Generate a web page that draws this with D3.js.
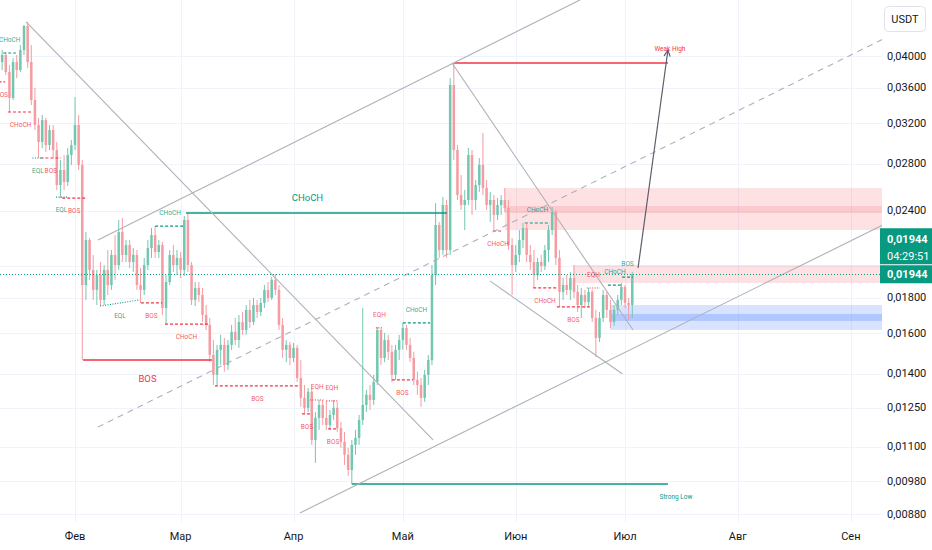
<!DOCTYPE html>
<html><head><meta charset="utf-8">
<script src="https://cdn.jsdelivr.net/npm/d3@7/dist/d3.min.js"></script>
<style>
html,body{margin:0;padding:0;background:#fff;}
svg{display:block;font-family:Roboto,"Liberation Sans",Arial,sans-serif;}
</style></head><body>
<svg id="chart" width="932" height="550"></svg>
<script>
// ---------- DATA ----------
const firstDay = "2024-01-12";
const openP = [0.03921,0.04013,0.03794,0.03482,0.03921,0.03819,0.04080,0.04417,0.03921,0.03459,
0.03184,0.03010,0.03237,0.02980,0.03132,0.02932,0.02611,0.02744,0.02637,0.02883,
0.02980,0.03184,0.02790,0.01876,0.02177,0.01972,0.01846,0.01939,0.01786,0.01972,
0.01876,0.02072,0.02004,0.02235,0.02072,0.02141,0.02024,0.02072,0.01876,0.01846,
0.02004,0.02120,0.02213,0.02092,0.02141,0.01739,0.01895,0.02072,0.02004,0.02052,
0.01972,0.02326,0.02004,0.01786,0.01858,0.01815,0.01699,0.01644,0.01489,0.01394,
0.01514,0.01539,0.01440,0.01539,0.01607,0.01564,0.01660,0.01617,0.01728,0.01660,
0.01756,0.01716,0.01768,0.01846,0.01798,0.01908,0.01846,0.01644,0.01514,0.01539,
0.01474,0.01524,0.01380,0.01292,0.01250,0.01318,0.01124,0.01209,0.01262,0.01209,
0.01181,0.01221,0.01250,0.01169,0.01117,0.01070,0.01018,0.01106,0.01132,0.01201,
0.01262,0.01305,0.01283,0.01362,0.01617,0.01474,0.01564,0.01504,0.01394,0.01514,
0.01564,0.01628,0.01539,0.01474,0.01371,0.01348,0.01292,0.01394,0.01464,0.01939,
0.02288,0.02106,0.02444,0.02106,0.03634,0.02932,0.02526,0.02444,0.02485,0.02883,
0.02485,0.02611,0.02790,0.02586,0.02444,0.02485,0.02365,0.02444,0.02485,0.02420,
0.02141,0.02004,0.02072,0.02177,0.02265,0.02072,0.02024,0.01939,0.02024,0.01998,
0.02106,0.02250,0.02388,0.02052,0.01834,0.01876,0.01846,0.01920,0.01834,0.01756,
0.01815,0.01774,0.01834,0.01682,0.01575,0.01682,0.01815,0.01728,0.01660,0.01728,
0.01786,0.01864,0.01768,0.01756];
const highP = [0.04080,0.04053,0.03882,0.03973,0.04013,0.04147,0.04432,0.04476,0.04147,0.03599,
0.03259,0.03291,0.03259,0.03184,0.03184,0.03010,0.02836,0.02883,0.02951,0.03030,
0.03493,0.03291,0.02836,0.02235,0.02191,0.02072,0.01972,0.02024,0.02004,0.02106,
0.02106,0.02213,0.02326,0.02341,0.02177,0.02177,0.02120,0.02106,0.01985,0.02052,
0.02177,0.02265,0.02280,0.02177,0.02163,0.01939,0.02106,0.02141,0.02106,0.02092,
0.02357,0.02380,0.02024,0.01895,0.01895,0.01858,0.01756,0.01682,0.01564,0.01539,
0.01591,0.01575,0.01564,0.01644,0.01682,0.01699,0.01716,0.01756,0.01786,0.01798,
0.01786,0.01798,0.01876,0.01895,0.01926,0.01946,0.01876,0.01682,0.01564,0.01554,
0.01549,0.01539,0.01464,0.01348,0.01335,0.01335,0.01233,0.01283,0.01283,0.01279,
0.01241,0.01283,0.01275,0.01193,0.01154,0.01095,0.01124,0.01162,0.01221,0.01739,
0.01326,0.01348,0.01394,0.01633,0.01622,0.01601,0.01591,0.01539,0.01539,0.01591,
0.01655,0.01644,0.01575,0.01504,0.01408,0.01380,0.01417,0.01489,0.02004,0.02460,
0.02311,0.02510,0.02485,0.03719,0.03908,0.02980,0.02699,0.02569,0.02951,0.02932,
0.02655,0.02855,0.03101,0.02655,0.02552,0.02526,0.02501,0.02526,0.02586,0.02485,
0.02191,0.02141,0.02250,0.02303,0.02296,0.02141,0.02106,0.02052,0.02072,0.02141,
0.02288,0.02428,0.02404,0.02106,0.01920,0.01939,0.01959,0.02004,0.01876,0.01858,
0.01846,0.01858,0.01846,0.01728,0.01716,0.01846,0.01834,0.01786,0.01756,0.01815,
0.01889,0.01876,0.01798,0.01959];
const lowP = [0.03819,0.03756,0.03324,0.03459,0.03719,0.03794,0.04013,0.03844,0.03402,0.03132,
0.02855,0.02951,0.02912,0.02932,0.02855,0.02569,0.02501,0.02569,0.02603,0.02790,
0.02932,0.02744,0.01464,0.01786,0.01908,0.01786,0.01756,0.01750,0.01756,0.01815,
0.01846,0.01908,0.01972,0.02024,0.02024,0.01985,0.01959,0.01846,0.01768,0.01815,
0.01972,0.02052,0.02052,0.02052,0.01699,0.01649,0.01876,0.01959,0.01939,0.01920,
0.01933,0.01959,0.01756,0.01750,0.01774,0.01660,0.01617,0.01454,0.01348,0.01344,
0.01440,0.01408,0.01417,0.01514,0.01539,0.01524,0.01591,0.01591,0.01628,0.01644,
0.01682,0.01693,0.01739,0.01774,0.01786,0.01815,0.01617,0.01474,0.01454,0.01440,
0.01454,0.01362,0.01254,0.01225,0.01233,0.01106,0.01042,0.01162,0.01181,0.01162,
0.01162,0.01201,0.01154,0.01095,0.01035,0.00998,0.00972,0.01070,0.01106,0.01181,
0.01233,0.01241,0.01262,0.01348,0.01440,0.01454,0.01464,0.01362,0.01371,0.01464,
0.01514,0.01514,0.01454,0.01348,0.01305,0.01254,0.01275,0.01348,0.01440,0.01876,
0.02052,0.02072,0.02052,0.02072,0.02836,0.02485,0.02404,0.02250,0.02444,0.02365,
0.02404,0.02552,0.02526,0.02404,0.02311,0.02243,0.02326,0.02365,0.02388,0.02106,
0.01815,0.01959,0.02024,0.02120,0.02024,0.01972,0.01858,0.01908,0.01959,0.01972,
0.02024,0.02213,0.02004,0.01745,0.01786,0.01815,0.01786,0.01798,0.01716,0.01682,
0.01739,0.01750,0.01660,0.01479,0.01554,0.01660,0.01682,0.01628,0.01639,0.01699,
0.01756,0.01739,0.01671,0.01682];
const closeP = [0.04013,0.03794,0.03482,0.03921,0.03819,0.04080,0.04417,0.03921,0.03459,0.03184,
0.03010,0.03237,0.02980,0.03132,0.02932,0.02611,0.02744,0.02637,0.02883,0.02980,
0.03184,0.02790,0.01876,0.02177,0.01972,0.01846,0.01939,0.01786,0.01972,0.01876,
0.02072,0.02004,0.02235,0.02072,0.02141,0.02024,0.02072,0.01876,0.01846,0.02004,
0.02120,0.02213,0.02092,0.02141,0.01739,0.01895,0.02072,0.02004,0.02052,0.01972,
0.02326,0.02004,0.01786,0.01858,0.01815,0.01699,0.01644,0.01489,0.01394,0.01514,
0.01539,0.01440,0.01539,0.01607,0.01564,0.01660,0.01617,0.01728,0.01660,0.01756,
0.01716,0.01768,0.01846,0.01798,0.01908,0.01846,0.01644,0.01514,0.01539,0.01474,
0.01524,0.01380,0.01292,0.01250,0.01318,0.01124,0.01209,0.01262,0.01209,0.01181,
0.01221,0.01250,0.01169,0.01117,0.01070,0.01018,0.01106,0.01132,0.01201,0.01262,
0.01305,0.01283,0.01362,0.01617,0.01474,0.01564,0.01504,0.01394,0.01514,0.01564,
0.01628,0.01539,0.01474,0.01371,0.01348,0.01292,0.01394,0.01464,0.01939,0.02288,
0.02106,0.02444,0.02106,0.03634,0.02932,0.02526,0.02444,0.02485,0.02883,0.02485,
0.02611,0.02790,0.02586,0.02444,0.02485,0.02365,0.02444,0.02485,0.02420,0.02141,
0.02004,0.02072,0.02177,0.02265,0.02072,0.02024,0.01939,0.02024,0.01998,0.02106,
0.02250,0.02388,0.02052,0.01834,0.01876,0.01846,0.01920,0.01834,0.01756,0.01815,
0.01774,0.01834,0.01682,0.01575,0.01682,0.01815,0.01728,0.01660,0.01728,0.01786,
0.01864,0.01768,0.01756,0.01944];

const lastPrice = 0.01944;
const lastPriceText = "0,01944";
const countdown = "04:29:51";
const currency = "USDT";

const monthTicks = ["2024-02-01","2024-03-01","2024-04-01","2024-05-01","2024-06-01","2024-07-01","2024-08-01","2024-09-01"];
const monthLabels = ["Фев","Мар","Апр","Май","Июн","Июл","Авг","Сен"];
const priceTicks = [0.0400,0.0360,0.0320,0.0280,0.0240,0.0180,0.0160,0.0140,0.0125,0.0110,0.0098,0.0088];
const hiddenTicks = [0.0200];

// structure breaks: [startCandle, endCandle, price, label, direction(+1 bull / -1 bear)]
const minorBreaks = [
  [0.3, 3.8, 0.04040, "CHoCH", 1],
  [-1, 0.8, 0.03671, "BOS", -1],
  [1.6, 8.5, 0.03324, "CHoCH", -1],
  [10.5, 16.2, 0.02855, "BOS", -1],
  [16.5, 23, 0.02501, "BOS", -1],
  [38.1, 43.9, 0.01768, "BOS", -1],
  [42, 50.2, 0.02280, "CHoCH", 1],
  [44.7, 56.5, 0.01649, "CHoCH", -1],
  [58.4, 81.8, 0.01344, "BOS", -1],
  [82.3, 85.1, 0.01225, "BOS", -1],
  [89.5, 92.2, 0.01166, "BOS", -1],
  [107, 112.8, 0.01371, "BOS", -1],
  [110, 117.5, 0.01655, "CHoCH", 1],
  [134.8, 137.5, 0.02243, "CHoCH", -1],
  [143.5, 150.4, 0.02303, "CHoCH", 1],
  [145.8, 152.3, 0.01858, "CHoCH", -1],
  [152.3, 161.4, 0.01745, "BOS", -1],
  [166.3, 170.2, 0.01876, "CHoCH", 1],
  [170.2, 173.2, 0.01926, "BOS", 1]
];
const majorBreaks = [
  [22.2, 57.6, 0.01464, "BOS", -1],
  [50.5, 122.1, 0.02380, "CHoCH", 1]
];
// equal highs / lows: [startCandle, endCandle, price1, price2, label, direction]
const equalLevels = [
  [8.3, 11.3, 0.02855, 0.02855, "EQL", 1],
  [14.8, 17.8, 0.02509, 0.02509, "EQL", 1],
  [26.9, 37.8, 0.01750, 0.01786, "EQL", 1],
  [84.5, 88.5, 0.01283, 0.01283, "EQH", -1],
  [89, 92, 0.01279, 0.01279, "EQH", -1],
  [102.6, 104.6, 0.01628, 0.01628, "EQH", -1],
  [160.6, 164.1, 0.01858, 0.01858, "EQH", -1]
];
// zones: [startCandle, top, bottom, bandTop, bandBottom, kind]
const zones = [
  [138, 0.02586, 0.02250, 0.02436, 0.02380, "supply"],
  [156.8, 0.02004, 0.01889, null, null, "supply"],
  [166.9, 0.01756, 0.01617, 0.01705, 0.01666, "demand"]
];
// drawn trend lines: [date1, price1, date2, price2, dashed]
const trendLines = [
  ["2024-02-07T07:26Z", 0.02177, "2024-06-18T15:00Z", 0.04814, false],
  ["2024-02-07T07:26Z", 0.01173, "2024-09-10T10:00Z", 0.04245, true],
  ["2024-04-02T18:30Z", 0.008832, "2024-09-10T10:00Z", 0.02296, false],
  ["2024-01-18T14:00Z", 0.04476, "2024-05-09T07:00Z", 0.01124, false],
  ["2024-05-14T12:00Z", 0.03908, "2024-07-03T05:00Z", 0.01617, false],
  ["2024-05-24T22:00Z", 0.01902, "2024-06-30T05:00Z", 0.01399, false]
];
const arrowLine = ["2024-07-04T14:00Z", 0.01985, "2024-07-12T19:00Z", 0.04080];
const weakHigh = [124, 0.03908, "2024-07-12T19:00Z", "Weak High"];
const strongLow = [96, 0.00972, "2024-07-12T19:00Z", "Strong Low"];

// ---------- RENDER ----------
const W = 932, H = 550, plotR = 882, plotB = 522;
const svg = d3.select("#chart");
const day0 = new Date(firstDay + "T00:00:00Z");
const at = i => new Date(day0.getTime() + i * 864e5);
const x = d3.scaleUtc()
  .domain([new Date("2024-02-01T00:00:00Z"), new Date("2024-07-01T00:00:00Z")])
  .range([75, 625]);
const y = d3.scaleLog().domain([0.0088, 0.04]).range([514, 56]);
const UP = "#089981", DN = "#f23645";
const candleUp = "#72c7b0", candleDn = "#f59ca2";
const fmt = p => d3.format(".5f")(p).replace(".", ",");

svg.append("rect").attr("width", W).attr("height", H).attr("fill", "#fff");
svg.append("defs").append("clipPath").attr("id", "plotclip")
  .append("rect").attr("x", 0).attr("y", 0).attr("width", plotR).attr("height", plotB);

// grid
const grid = svg.append("g").attr("stroke", "#f0f3fa").attr("stroke-width", 1);
grid.selectAll("line.h").data(priceTicks.concat(hiddenTicks)).join("line").attr("class", "h")
  .attr("x1", 0).attr("x2", plotR)
  .attr("y1", d => Math.round(y(d)) + 0.5).attr("y2", d => Math.round(y(d)) + 0.5);
grid.selectAll("line.v").data(monthTicks).join("line").attr("class", "v")
  .attr("x1", d => Math.round(x(new Date(d + "T00:00:00Z"))) + 0.5)
  .attr("x2", d => Math.round(x(new Date(d + "T00:00:00Z"))) + 0.5)
  .attr("y1", 0).attr("y2", plotB);

const plot = svg.append("g").attr("clip-path", "url(#plotclip)");

// zones
zones.forEach(([s, top, bot, bt, bb, kind]) => {
  const fill = kind === "supply" ? "rgba(242,54,69,0.15)" : "rgba(41,98,255,0.18)";
  const band = kind === "supply" ? "rgba(242,54,69,0.13)" : "rgba(41,98,255,0.22)";
  const x0 = x(at(s));
  plot.append("rect").attr("x", x0).attr("width", plotR - x0)
    .attr("y", y(top)).attr("height", y(bot) - y(top)).attr("fill", fill);
  if (bt !== null) {
    plot.append("rect").attr("x", x0).attr("width", plotR - x0)
      .attr("y", y(bt)).attr("height", y(bb) - y(bt)).attr("fill", band);
  }
});

// candles
const idx = d3.range(closeP.length);
const cg = plot.append("g");
cg.selectAll("line").data(idx).join("line")
  .attr("x1", i => x(at(i))).attr("x2", i => x(at(i)))
  .attr("y1", i => y(highP[i])).attr("y2", i => y(lowP[i]))
  .attr("stroke", i => closeP[i] >= openP[i] ? candleUp : candleDn).attr("stroke-width", 1);
cg.selectAll("rect").data(idx).join("rect")
  .attr("x", i => x(at(i)) - 1.25).attr("width", 2.5)
  .attr("y", i => y(Math.max(openP[i], closeP[i])))
  .attr("height", i => Math.max(0.8, Math.abs(y(openP[i]) - y(closeP[i]))))
  .attr("fill", i => closeP[i] >= openP[i] ? candleUp : candleDn);

// structure lines + labels
const lab = svg.append("g").attr("clip-path", "url(#plotclip)")
  .attr("text-anchor", "middle").attr("dominant-baseline", "central");
minorBreaks.forEach(([a, b, p, t, dir]) => {
  const c = dir > 0 ? UP : DN, yy = y(p), x1 = x(at(a)), x2 = x(at(b));
  plot.append("line").attr("x1", x1).attr("x2", x2).attr("y1", yy).attr("y2", yy)
    .attr("stroke", c).attr("stroke-width", 1.2).attr("stroke-dasharray", "3,2");
  lab.append("text").attr("x", (x1 + x2) / 2).attr("y", yy + (dir > 0 ? -13 : 13))
    .attr("font-size", 6.5).attr("fill", c).attr("fill-opacity", 0.85).text(t);
});
majorBreaks.forEach(([a, b, p, t, dir]) => {
  const c = dir > 0 ? UP : DN, yy = y(p), x1 = x(at(a)), x2 = x(at(b));
  plot.append("line").attr("x1", x1).attr("x2", x2).attr("y1", yy).attr("y2", yy)
    .attr("stroke", c).attr("stroke-width", 1.5);
  lab.append("text").attr("x", (x1 + x2) / 2 + (dir > 0 ? -9 : 0)).attr("y", yy + (dir > 0 ? -16 : 18))
    .attr("font-size", 9.5).attr("fill", c).text(t);
});
equalLevels.forEach(([a, b, p1, p2, t, dir]) => {
  const c = dir > 0 ? UP : DN, x1 = x(at(a)), x2 = x(at(b));
  plot.append("line").attr("x1", x1).attr("x2", x2).attr("y1", y(p1)).attr("y2", y(p2))
    .attr("stroke", c).attr("stroke-width", 1.1).attr("stroke-dasharray", "1,1.5");
  lab.append("text").attr("x", (x1 + x2) / 2).attr("y", (y(p1) + y(p2)) / 2 + (dir > 0 ? 13 : -13))
    .attr("font-size", 6.5).attr("fill", c).attr("fill-opacity", 0.85).text(t);
});

// strong low / weak high
[[weakHigh, DN, -14, 2], [strongLow, UP, 13, 8]].forEach(([[s, p, e, t], c, dy, dx]) => {
  const x1 = x(at(s)), x2 = x(new Date(e)), yy = y(p);
  plot.append("line").attr("x1", x1).attr("x2", x2).attr("y1", yy).attr("y2", yy)
    .attr("stroke", c).attr("stroke-width", 1.5);
  lab.append("text").attr("x", x2 + dx).attr("y", yy + dy).attr("font-size", 6.5)
    .attr("fill", c).text(t);
});

// trend lines
trendLines.forEach(([d1, p1, d2, p2, dashed]) => {
  plot.append("line").attr("x1", x(new Date(d1))).attr("y1", y(p1))
    .attr("x2", x(new Date(d2))).attr("y2", y(p2))
    .attr("stroke", "#aeb1b9").attr("stroke-width", 1.1)
    .attr("stroke-dasharray", dashed ? "6,5" : null);
});

// arrow
{
  const [d1, p1, d2, p2] = arrowLine;
  const ax1 = x(new Date(d1)), ay1 = y(p1), ax2 = x(new Date(d2)), ay2 = y(p2);
  plot.append("line").attr("x1", ax1).attr("y1", ay1).attr("x2", ax2).attr("y2", ay2)
    .attr("stroke", "#5d606b").attr("stroke-width", 1.2);
  const ang = Math.atan2(ay2 - ay1, ax2 - ax1), L = 7;
  const pA = [ax2 - L * Math.cos(ang - 0.45), ay2 - L * Math.sin(ang - 0.45)];
  const pB = [ax2 - L * Math.cos(ang + 0.45), ay2 - L * Math.sin(ang + 0.45)];
  plot.append("path").attr("d", `M${pA}L${ax2},${ay2}L${pB}`).attr("fill", "none")
    .attr("stroke", "#5d606b").attr("stroke-width", 1.2);
}

// last price line
plot.append("line").attr("x1", 0).attr("x2", plotR)
  .attr("y1", Math.round(y(lastPrice)) + 0.5).attr("y2", Math.round(y(lastPrice)) + 0.5)
  .attr("stroke", UP).attr("stroke-width", 1).attr("stroke-dasharray", "1,2");

// price axis
const pa = svg.append("g").attr("font-size", 11).attr("fill", "#131722");
pa.selectAll("text").data(priceTicks).join("text")
  .attr("x", 887).attr("y", d => y(d)).attr("dominant-baseline", "central").text(fmt);
svg.append("rect").attr("x", 884.5).attr("y", 6.5).attr("width", 41).attr("height", 25).attr("rx", 4)
  .attr("fill", "#fff").attr("stroke", "#e0e3eb");
svg.append("text").attr("x", 905).attr("y", 19).attr("text-anchor", "middle")
  .attr("dominant-baseline", "central").attr("font-size", 11).attr("fill", "#131722").text(currency);

// last price tags
const ly = y(lastPrice);
svg.append("rect").attr("x", 880).attr("y", ly - 46).attr("width", 52).attr("height", 36).attr("fill", UP);
svg.append("rect").attr("x", 880).attr("y", ly - 9).attr("width", 52).attr("height", 18).attr("fill", UP);
svg.append("text").attr("x", 887).attr("y", ly - 35).attr("dominant-baseline", "central")
  .attr("font-size", 11).attr("font-weight", "bold").attr("fill", "#fff").text(lastPriceText);
svg.append("text").attr("x", 887).attr("y", ly - 18).attr("dominant-baseline", "central")
  .attr("font-size", 11).attr("fill", "#fff").text(countdown);
svg.append("text").attr("x", 887).attr("y", ly).attr("dominant-baseline", "central")
  .attr("font-size", 11).attr("font-weight", "bold").attr("fill", "#fff").text(lastPriceText);

// time axis
svg.append("g").selectAll("text").data(monthTicks).join("text")
  .attr("x", d => x(new Date(d + "T00:00:00Z"))).attr("y", 536)
  .attr("text-anchor", "middle").attr("dominant-baseline", "central")
  .attr("font-size", 11).attr("fill", "#131722")
  .text((d, i) => monthLabels[i]);
</script>
</body></html>
